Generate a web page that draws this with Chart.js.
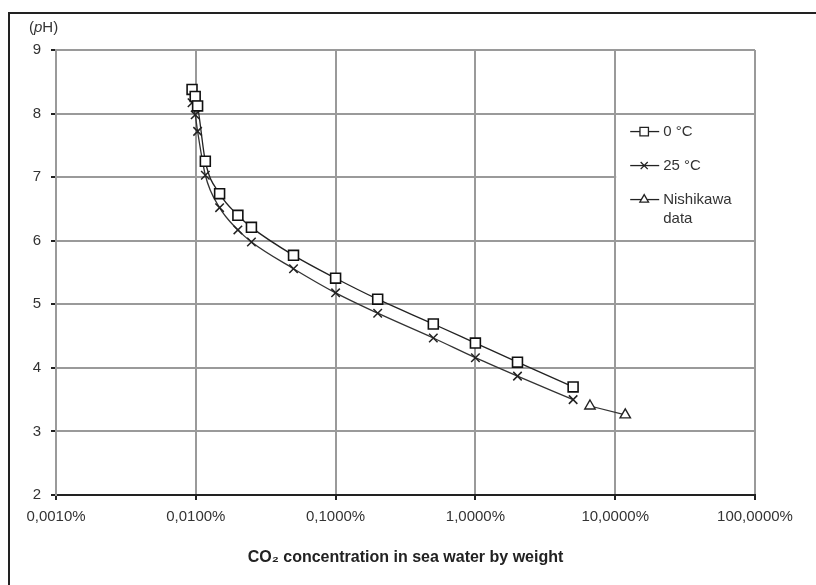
<!DOCTYPE html>
<html>
<head>
<meta charset="utf-8">
<script src="https://cdn.jsdelivr.net/npm/chart.js@4"></script>
<style>
  html, body { margin: 0; padding: 0; background: #fff; }
  #wrap { width: 816px; height: 585px; position: relative; }
</style>
</head>
<body>
<div id="wrap"><canvas id="myChart" width="816" height="585"></canvas></div>
<script>
// CO2 concentration in sea water (% by weight), log axis
const concentration = [0.0094, 0.0099, 0.0103, 0.0117, 0.0148, 0.02, 0.025, 0.05, 0.1, 0.2, 0.5, 1, 2, 5];
const ph0C = [8.38, 8.27, 8.12, 7.25, 6.74, 6.40, 6.21, 5.77, 5.41, 5.08, 4.69, 4.39, 4.09, 3.70];
const ph25C = [8.17, 7.98, 7.72, 7.03, 6.52, 6.17, 5.98, 5.56, 5.18, 4.86, 4.47, 4.16, 3.87, 3.50];
const nishikawaConc = [6.6, 11.8];
const nishikawaPh = [3.40, 3.26];
const xTicks = [0.001, 0.01, 0.1, 1, 10, 100];
const yTicks = [2, 3, 4, 5, 6, 7, 8, 9];
const seriesNames = ['0 °C', '25 °C', 'Nishikawa', 'data'];

const toPoints = (xs, ys) => xs.map((x, i) => ({ x: x, y: ys[i] }));
const fmtPct = v => v.toFixed(4).replace('.', ',') + '%';

const textColor = '#333';
const gridColor = '#9a9a9a';
const fontFamily = '"Liberation Sans", Arial, sans-serif';
const fontSize = 15;

// outer frame, (pH) label and the legend box inside the plot
const decorPlugin = {
  id: 'decor',
  beforeDraw(chart) {
    const ctx = chart.ctx;
    ctx.save();
    ctx.fillStyle = '#fff';
    ctx.fillRect(0, 0, chart.width, chart.height);
    ctx.strokeStyle = '#222';
    ctx.lineWidth = 2;
    ctx.strokeRect(9, 13, 900, 700);
    ctx.fillStyle = textColor;
    ctx.textBaseline = 'middle';
    ctx.font = fontSize + 'px ' + fontFamily;
    let x = 29;
    ctx.fillText('(', x, 28);
    x += ctx.measureText('(').width;
    ctx.font = 'italic ' + fontSize + 'px ' + fontFamily;
    ctx.fillText('p', x, 28);
    x += ctx.measureText('p').width;
    ctx.font = fontSize + 'px ' + fontFamily;
    ctx.fillText('H)', x, 28);
    ctx.restore();
  },
  beforeDatasetsDraw(chart) {
    const ctx = chart.ctx;
    const xs = chart.scales.x, ys = chart.scales.y;
    const x0 = xs.getPixelForValue(10) + 1;
    const x1 = chart.chartArea.right - 1;
    const y0 = ys.getPixelForValue(8) + 2;
    const y1 = ys.getPixelForValue(6) - 2;
    ctx.save();
    ctx.fillStyle = '#fff';
    ctx.fillRect(x0, y0, x1 - x0, y1 - y0);

    const rows = [
      { label: seriesNames[0], y: y0 + 16, style: 'rect', r: 6 },
      { label: seriesNames[1], y: y0 + 50, style: 'crossRot', r: 5 },
      { label: seriesNames[2], y: y0 + 84, style: 'triangle', r: 5 }
    ];
    rows.forEach(row => {
      ctx.strokeStyle = '#222';
      ctx.lineWidth = 1.3;
      ctx.beginPath();
      ctx.moveTo(x0 + 14, row.y);
      ctx.lineTo(x0 + 43, row.y);
      ctx.stroke();
      ctx.fillStyle = '#fff';
      Chart.helpers.drawPoint(ctx, { pointStyle: row.style, radius: row.r, rotation: 0, borderWidth: 1.3 }, x0 + 28, row.y);
      ctx.fillStyle = textColor;
      ctx.font = fontSize + 'px ' + fontFamily;
      ctx.textBaseline = 'middle';
      ctx.fillText(row.label, x0 + 47, row.y);
    });
    ctx.fillText(seriesNames[3], x0 + 47, y0 + 103);
    ctx.restore();
  }
};

new Chart(document.getElementById('myChart').getContext('2d'), {
  type: 'scatter',
  data: {
    datasets: [
      {
        label: seriesNames[0],
        data: toPoints(concentration, ph0C),
        showLine: true,
        cubicInterpolationMode: 'monotone',
        borderColor: '#222',
        borderWidth: 1.3,
        pointStyle: 'rect',
        pointRadius: 7,
        pointBackgroundColor: '#fff',
        pointBorderColor: '#111',
        pointBorderWidth: 1.6
      },
      {
        label: seriesNames[1],
        data: toPoints(concentration, ph25C),
        showLine: true,
        cubicInterpolationMode: 'monotone',
        borderColor: '#333',
        borderWidth: 1.3,
        pointStyle: 'crossRot',
        pointRadius: 6,
        pointBorderColor: '#222',
        pointBorderWidth: 1.5
      },
      {
        label: 'Nishikawa data',
        data: toPoints(nishikawaConc, nishikawaPh),
        showLine: true,
        borderColor: '#333',
        borderWidth: 1.2,
        pointStyle: 'triangle',
        pointRadius: 6,
        pointBackgroundColor: '#fff',
        pointBorderColor: '#222',
        pointBorderWidth: 1.4
      }
    ]
  },
  options: {
    responsive: false,
    animation: false,
    layout: { padding: { left: 0, top: 50, right: 61, bottom: 0 } },
    plugins: {
      legend: { display: false },
      tooltip: { enabled: false }
    },
    scales: {
      x: {
        type: 'logarithmic',
        min: 0.001,
        max: 100,
        afterBuildTicks: scale => { scale.ticks = xTicks.map(v => ({ value: v })); },
        afterFit: scale => { scale.height = 90; },
        ticks: {
          color: textColor,
          font: { family: fontFamily, size: fontSize },
          padding: 8,
          maxRotation: 0,
          autoSkip: false,
          callback: v => fmtPct(v)
        },
        grid: { color: gridColor, lineWidth: 2, tickLength: 5, tickColor: '#222' },
        border: { color: '#222', width: 2 },
        title: {
          display: true,
          text: 'CO₂ concentration in sea water by weight',
          color: '#222',
          font: { family: fontFamily, size: 16, weight: 'bold' },
          padding: { top: 4, bottom: 18 }
        }
      },
      y: {
        min: 2,
        max: 9,
        afterBuildTicks: scale => { scale.ticks = yTicks.map(v => ({ value: v })); },
        afterFit: scale => { scale.width = 56; },
        ticks: {
          color: textColor,
          font: { family: fontFamily, size: fontSize },
          padding: 10
        },
        grid: { color: gridColor, lineWidth: 2, tickLength: 5, tickColor: '#222' },
        border: { color: gridColor, width: 2 }
      }
    }
  },
  plugins: [decorPlugin]
});
</script>
</body>
</html>
